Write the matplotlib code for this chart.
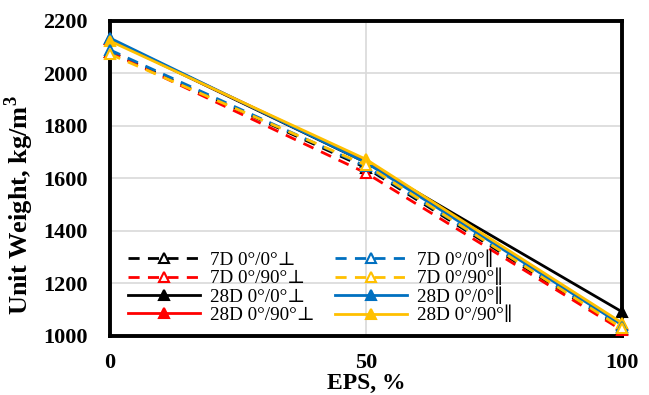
import matplotlib
matplotlib.use("Agg")
import matplotlib.pyplot as plt

eps = [0, 50, 100]

labels = ["7D 0°/0°⊥", "7D 0°/90°⊥", "28D 0°/0°⊥", "28D 0°/90°⊥",
          "7D 0°/0°∥", "7D 0°/90°∥", "28D 0°/0°∥", "28D 0°/90°∥"]
d7_0_0_perp = [2082, 1640, 1028]
d7_0_90_perp = [2080, 1620, 1022]
d28_0_0_perp = [2128, 1660, 1092]
d28_0_90_perp = [2128, 1665, 1045]
d7_0_0_par = [2088, 1645, 1035]
d7_0_90_par = [2072, 1650, 1030]
d28_0_0_par = [2133, 1660, 1042]
d28_0_90_par = [2122, 1672, 1050]

series = [d7_0_0_perp, d7_0_90_perp, d28_0_0_perp, d28_0_90_perp,
          d7_0_0_par, d7_0_90_par, d28_0_0_par, d28_0_90_par]
colors = ["black", "#ff0000", "black", "#ff0000",
          "#0070c0", "#ffc000", "#0070c0", "#ffc000"]
dashed = [True, True, False, False, True, True, False, False]

fig = plt.figure(figsize=(6.49, 3.95), dpi=100)
ax = fig.add_axes([0.1695, 0.1494, 0.7889, 0.7987])

serif = ["Liberation Serif", "DejaVu Serif"]

order = [2, 3, 6, 7, 0, 1, 4, 5]
handles = {}
for i in order:
    ls = (0, (4, 3)) if dashed[i] else "-"
    mfc = "white" if dashed[i] else colors[i]
    h, = ax.plot(eps, series[i], color=colors[i], linestyle=ls, linewidth=2,
                 marker="^", markersize=7, markerfacecolor=mfc,
                 markeredgecolor=colors[i], markeredgewidth=1.5,
                 label=labels[i], clip_on=False, zorder=3)
    handles[i] = h

ax.set_xlim(0, 100)
ax.set_ylim(1000, 2200)
ax.set_xticks([0, 50, 100])
ax.set_yticks(range(1000, 2201, 200))
ax.grid(True, color="#d9d9d9", linewidth=1.2)
ax.set_axisbelow(True)
ax.tick_params(axis="y", length=0, pad=16)
ax.tick_params(axis="x", length=0, pad=12)
for lab in ax.get_xticklabels() + ax.get_yticklabels():
    lab.set_family(serif)
    lab.set_fontweight("bold")
    lab.set_fontsize(16)

for s in ax.spines.values():
    s.set_linewidth(2.8)
    s.set_color("black")

ax.set_xlabel("EPS, %", family=serif, fontweight="bold", fontsize=17, labelpad=0)
ax.set_ylabel("Unit Weight, kg/m$^\\mathregular{3}$", family=serif,
              fontweight="bold", fontsize=19)
ax.yaxis.set_label_coords(-0.145, 0.415)

leg = ax.legend([handles[i] for i in range(8)], labels, ncol=2, frameon=False,
                loc="lower left", bbox_to_anchor=(0.013, 0.0),
                prop={"family": serif, "size": 13.8}, handlelength=3.75,
                labelspacing=0.05, columnspacing=1.04, handletextpad=0.52,
                borderaxespad=0.3, borderpad=0.3)

fig.savefig("out.png", dpi=100)
